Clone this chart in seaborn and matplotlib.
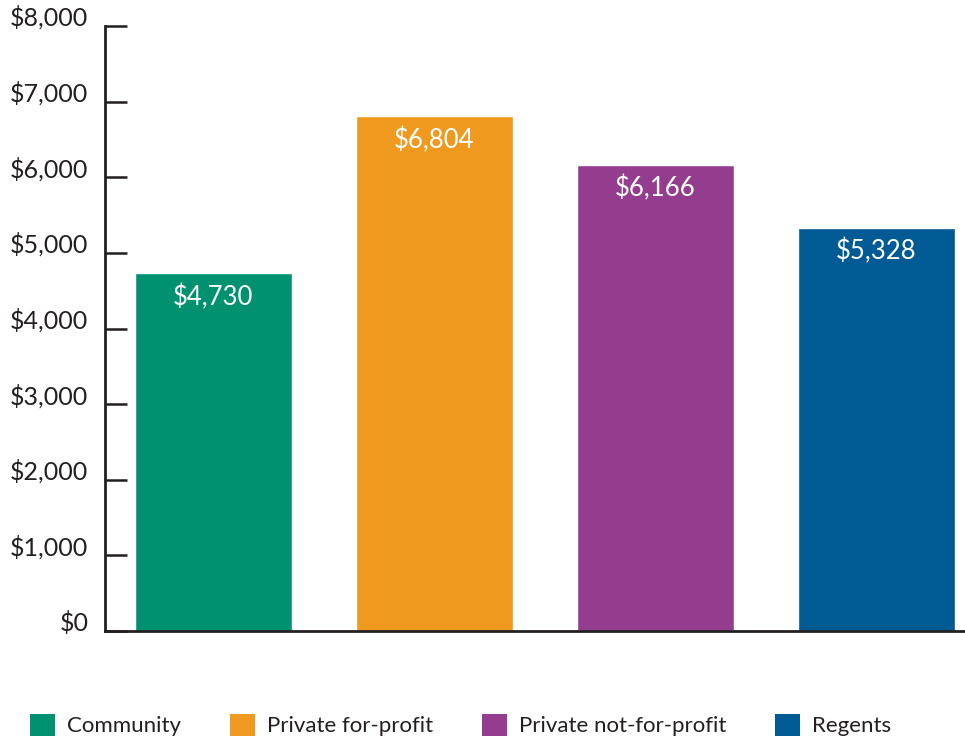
import matplotlib
matplotlib.use("Agg")
import matplotlib.pyplot as plt
import seaborn as sns
import pandas as pd
from matplotlib.patches import Patch
from matplotlib.ticker import FuncFormatter

categories = ["Community", "Private for-profit", "Private not-for-profit", "Regents"]
values = [4730, 6804, 6166, 5328]
colors = ["#009270", "#EF9A1E", "#943D8F", "#005A94"]
yticks = [0, 1000, 2000, 3000, 4000, 5000, 6000, 7000, 8000]

sns.set_style("white")
plt.rcParams["font.family"] = ["Lato", "DejaVu Sans"]

df = pd.DataFrame({"category": categories, "value": values})

fig = plt.figure(figsize=(9.65, 7.42), dpi=100)
ax = fig.add_axes([105 / 965, 1 - 631 / 742, 1 - 105 / 965, (631 - 26) / 742])

sns.barplot(data=df, x="category", y="value", hue="category", palette=colors,
            order=categories, hue_order=categories, width=0.71, saturation=1,
            legend=False, ax=ax)

ax.set_ylim(0, 8000)
ax.set_xlim(-0.49, 3.4)
ax.set_yticks(yticks)
ax.yaxis.set_major_formatter(FuncFormatter(lambda v, p: f"${int(v):,}"))
ax.set_xticks([])
ax.set_xlabel("")
ax.set_ylabel("")
for s in ["top", "right"]:
    ax.spines[s].set_visible(False)
for s in ["left", "bottom"]:
    ax.spines[s].set_color("#231f20")
    ax.spines[s].set_linewidth(2)
ax.tick_params(axis="y", which="major", left=True, direction="in", length=16, width=1.8,
               color="#231f20", pad=12, labelsize=18, labelcolor="#231f20")

for lab in ax.get_yticklabels():
    lab.set_verticalalignment("baseline")

for i, v in enumerate(values):
    ax.annotate(f"${v:,}", xy=(i, v), xytext=(0, -17), textcoords="offset points",
                ha="center", va="center", color="white", fontsize=18.5)

handles = [Patch(facecolor=c, edgecolor="none") for c in colors]
fig.legend(handles, categories, loc="center left", bbox_to_anchor=(30 / 965, 1 - 725 / 742),
           ncol=4, frameon=False, fontsize=16, handlelength=1.125, handleheight=1.125,
           handletextpad=0.54, columnspacing=2.2, borderaxespad=0, borderpad=0,
           labelcolor="#231f20")

fig.savefig("out.png", dpi=100)
